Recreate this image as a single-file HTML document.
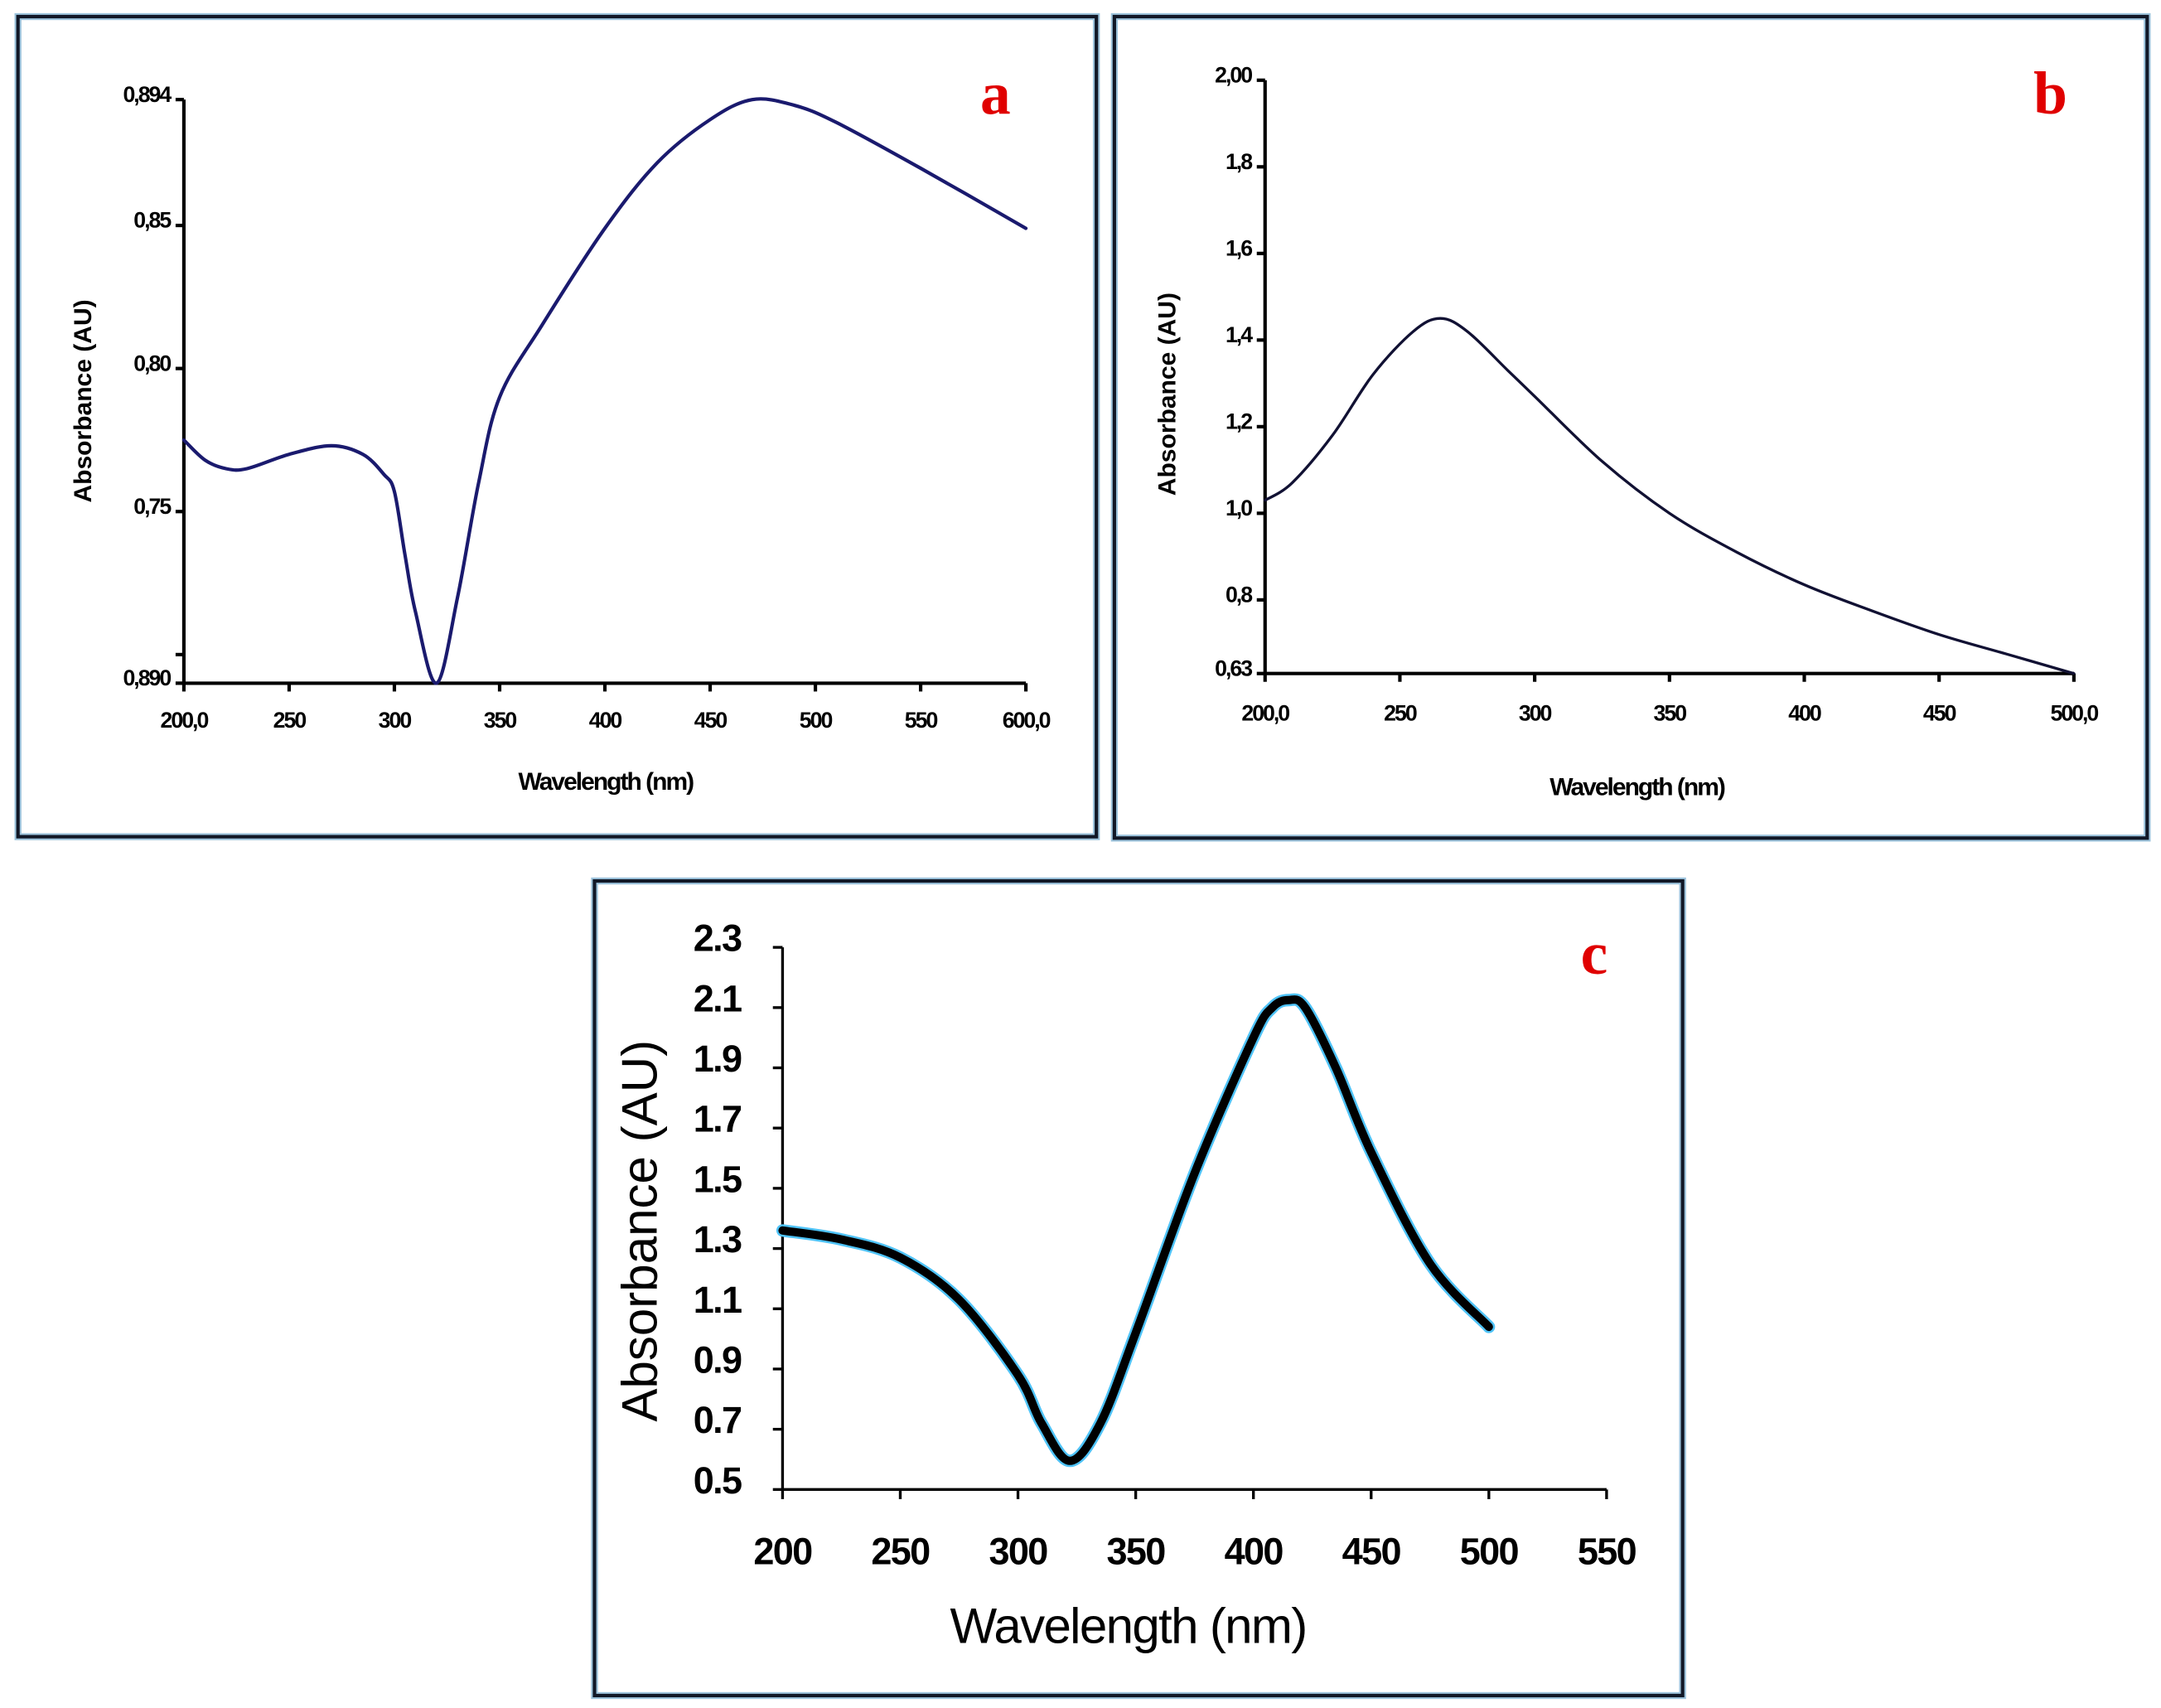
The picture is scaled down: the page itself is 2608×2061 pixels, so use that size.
<!DOCTYPE html>
<html><head><meta charset="utf-8"><style>
html,body{margin:0;padding:0;background:#fff;}
svg{display:block;}
text{font-family:"Liberation Sans",sans-serif;}
</style></head><body>
<svg id="fig" width="2608" height="2061" viewBox="0 0 1563 1235" preserveAspectRatio="none" xmlns="http://www.w3.org/2000/svg"></svg>
<script>
// Panel a data
const aX=[200,210,220,230,250,270,285,295,300,305,310,320,330,340,350,370,400,425,450,470,490,510,550,600];
const aY=[0.775,0.768,0.765,0.765,0.770,0.773,0.770,0.763,0.757,0.735,0.715,0.690,0.72,0.76,0.79,0.815,0.849,0.872,0.887,0.894,0.892,0.886,0.870,0.849];
const aXTicks=[200,250,300,350,400,450,500,550,600];
const aXLabels=["200,0","250","300","350","400","450","500","550","600,0"];
const aYTicks=[0.894,0.85,0.80,0.75,0.70,0.690];
const aYLabels=["0,894","0,85","0,80","0,75","","0,890"];
// Panel b data
const bX=[200,210,225,240,255,265,275,290,300,325,350,375,400,425,450,475,500];
const bY=[1.03,1.07,1.18,1.32,1.42,1.45,1.42,1.33,1.27,1.12,1.0,0.91,0.835,0.775,0.72,0.675,0.63];
const bXTicks=[200,250,300,350,400,450,500];
const bXLabels=["200,0","250","300","350","400","450","500,0"];
const bYTicks=[2.0,1.8,1.6,1.4,1.2,1.0,0.8,0.63];
const bYLabels=["2,00","1,8","1,6","1,4","1,2","1,0","0,8","0,63"];
// Panel c data
const cX=[200,225,250,275,300,310,322,335,350,375,400,408,415,422,435,450,475,500];
const cY=[1.36,1.33,1.27,1.13,0.88,0.72,0.595,0.72,1.02,1.55,2.0,2.10,2.125,2.10,1.90,1.62,1.25,1.04];
const cXTicks=[200,250,300,350,400,450,500,550];
const cXLabels=["200","250","300","350","400","450","500","550"];
const cYTicks=[2.3,2.1,1.9,1.7,1.5,1.3,1.1,0.9,0.7,0.5];
const cYLabels=["2.3","2.1","1.9","1.7","1.5","1.3","1.1","0.9","0.7","0.5"];

const NS="http://www.w3.org/2000/svg";
const svg=document.getElementById('fig');
function mk(tag,attrs,parent){const e=document.createElementNS(NS,tag);for(const k in attrs)e.setAttribute(k,attrs[k]);(parent||svg).appendChild(e);return e;}
function scale(d0,d1,r0,r1){return v=>r0+(v-d0)/(d1-d0)*(r1-r0);}
function smooth(pts){let d="M"+pts[0][0]+","+pts[0][1];for(let i=0;i<pts.length-1;i++){const p0=pts[Math.max(0,i-1)],p1=pts[i],p2=pts[i+1],p3=pts[Math.min(pts.length-1,i+2)];const c1x=p1[0]+(p2[0]-p0[0])/6,c1y=p1[1]+(p2[1]-p0[1])/6,c2x=p2[0]-(p3[0]-p1[0])/6,c2y=p2[1]-(p3[1]-p1[1])/6;d+=" C"+c1x+","+c1y+" "+c2x+","+c2y+" "+p2[0]+","+p2[1];}return d;}

function panel(o){
  const g=mk('g',{});
  
  
  const fr=mk('rect',{x:o.fx,y:o.fy,width:o.fw,height:o.fh,fill:'#fff',stroke:'#9cc3dc','stroke-width':5},g);
  
  
  mk('rect',{x:o.fx,y:o.fy,width:o.fw,height:o.fh,fill:'none',stroke:'#111827','stroke-width':2.5},g);
  const sx=scale(o.x0,o.x1,o.px0,o.px1), sy=scale(o.y0,o.y1,o.py0,o.py1);
  const ax=mk('g',{},g);
  
  
  mk('line',{x1:o.px0,y1:o.py0,x2:o.px0,y2:o.py1,stroke:'#000','stroke-width':o.aw},ax);
  const xend=sx(o.xTicks[o.xTicks.length-1]);
  mk('line',{x1:o.px0,y1:o.py0,x2:xend,y2:o.py0,stroke:'#000','stroke-width':o.aw},ax);
  o.xTicks.forEach((t,i)=>{const x=sx(t);mk('line',{x1:x,y1:o.py0,x2:x,y2:o.py0+o.tl,stroke:'#000','stroke-width':o.aw},ax);
    const tx=mk('text',{x:x,y:o.py0+o.xlo,'text-anchor':'middle','font-size':o.fs,'font-weight':'bold','letter-spacing':o.ls},ax);tx.textContent=o.xLabels[i];
    
    });
  o.yTicks.forEach((t,i)=>{const y=sy(t);mk('line',{x1:o.px0-o.tl,y1:y,x2:o.px0,y2:y,stroke:'#000','stroke-width':o.aw},ax);
    if(o.yLabels[i]){const tx=mk('text',{x:o.px0-o.ylo,y:y+o.fs*0.1,'text-anchor':'end','font-size':o.fs,'font-weight':'bold','letter-spacing':o.ls},ax);tx.textContent=o.yLabels[i];
    
    }});
  const xt=mk('text',{x:o.xtx,y:o.xty,'text-anchor':'middle','font-size':o.tfs,'font-weight':o.tfw,'letter-spacing':o.ls},g);xt.textContent='Wavelength (nm)';
  
  
  const yt=mk('text',{x:0,y:0,'text-anchor':'middle','font-size':o.tfs,'font-weight':o.tfw,transform:'translate('+o.ytx+','+o.yty+') rotate(-90)'},g);yt.textContent='Absorbance (AU)';
  
  
  const pts=o.xs.map((v,i)=>[sx(v),sy(o.ys[i])]);
  if(o.glow){const gl=mk('path',{d:smooth(pts),fill:'none',stroke:'#4fc3f7','stroke-width':o.lw+3,'stroke-linecap':'round'},g);}
  const p=mk('path',{d:smooth(pts),fill:'none',stroke:o.lc,'stroke-width':o.lw,'stroke-linecap':'round'},g);
  
  
  const lb=mk('text',{x:o.lx,y:o.ly,'text-anchor':'middle','font-size':44,'font-weight':'bold',fill:'#e00000',style:'font-family:"Liberation Serif",serif'},g);lb.textContent=o.letter;
  
  
}
panel({name:'panel-a',fx:13,fy:12,fw:780,fh:593,x0:200,x1:600,px0:133,px1:742,y0:0.690,y1:0.894,py0:494,py1:72,
  xTicks:aXTicks,xLabels:aXLabels,yTicks:aYTicks,yLabels:aYLabels,xs:aX,ys:aY,aw:2.5,tl:6,fs:16,ls:-1.2,xlo:32,ylo:10,
  xtx:438,xty:571,tfs:18,tfw:'bold',ytx:66,yty:290,lw:2.5,lc:'#1a1a6e',lx:720,ly:82,letter:'a'});
panel({name:'panel-b',fx:806,fy:12,fw:747,fh:594,x0:200,x1:500,px0:915,px1:1500,y0:0.63,y1:2.0,py0:487,py1:58,
  xTicks:bXTicks,xLabels:bXLabels,yTicks:bYTicks,yLabels:bYLabels,xs:bX,ys:bY,aw:2.5,tl:6,fs:16,ls:-1.2,xlo:34,ylo:10,
  xtx:1184,xty:575,tfs:18,tfw:'bold',ytx:850,yty:285,lw:2,lc:'#111133',lx:1483,ly:82,letter:'b'});
panel({name:'panel-c',fx:430,fy:637,fw:787,fh:589,x0:200,x1:550,px0:566,px1:1162,y0:0.5,y1:2.3,py0:1077,py1:685,
  xTicks:cXTicks,xLabels:cXLabels,yTicks:cYTicks,yLabels:cYLabels,xs:cX,ys:cY,aw:2,tl:7,fs:27,ls:-1,xlo:54,ylo:30,
  xtx:816,xty:1188,tfs:36,tfw:'normal',ytx:475,yty:890,lw:6,lc:'#000',glow:true,lx:1153,ly:704,letter:'c'});
</script>
</body></html>
